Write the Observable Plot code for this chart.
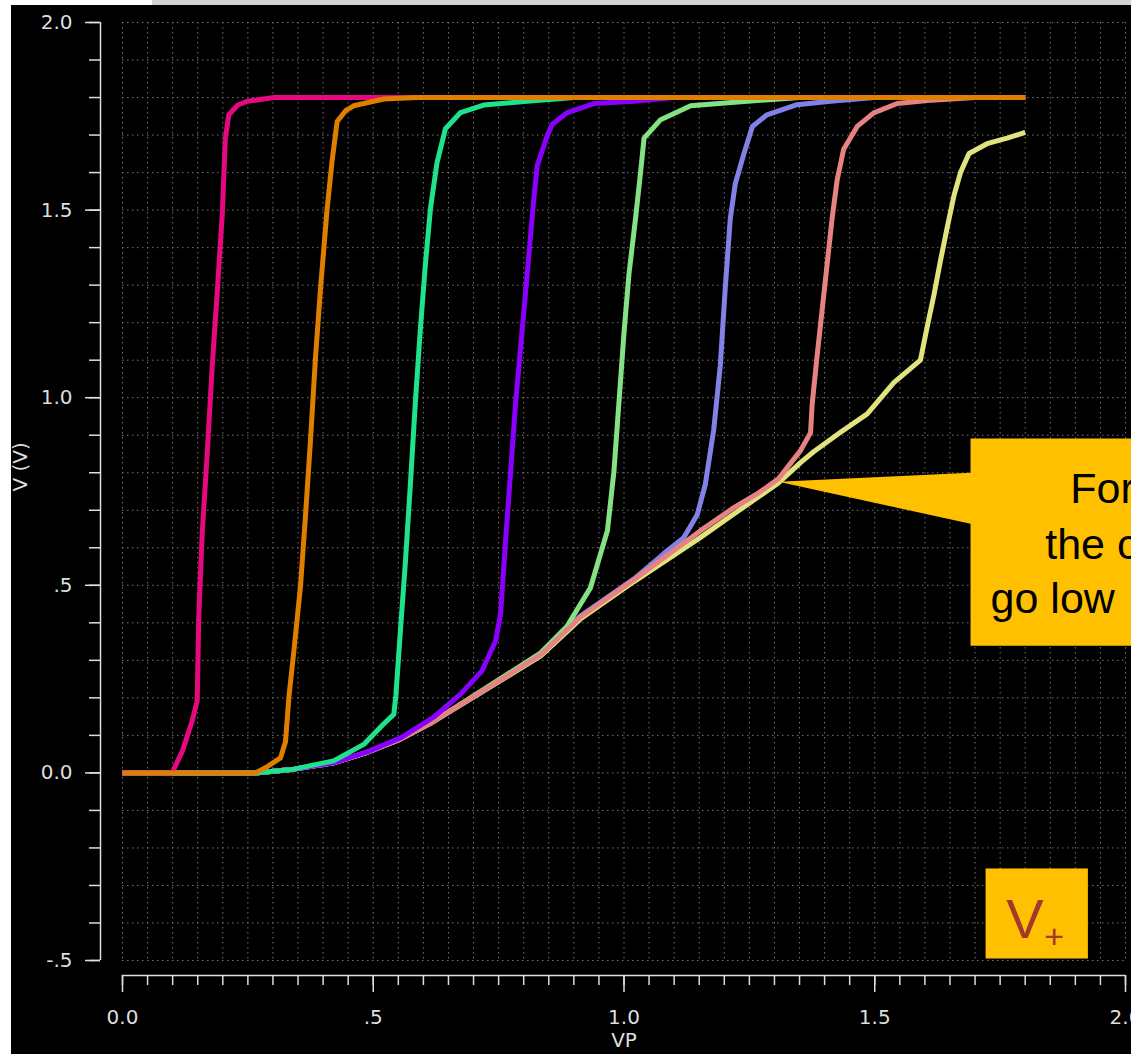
<!DOCTYPE html>
<html>
<head>
<meta charset="utf-8">
<script src="https://cdn.jsdelivr.net/npm/d3@7"></script>
<script src="https://cdn.jsdelivr.net/npm/@observablehq/plot@0.6"></script>
<style>
html, body { margin: 0; padding: 0; background: #fff; overflow: hidden; width: 1131px; height: 1054px; }
#topbar { position: absolute; left: 152px; top: 0px; width: 979px; height: 6px; background: #d2d2d2; border-radius: 0 0 3px 3px; }
#chart { position: absolute; left: 11px; top: 5px; width: 1120px; height: 1049px; background: #000; overflow: hidden; }
</style>
</head>
<body>
<div id="topbar"></div>
<div id="chart"></div>
<script>
// ---- data (VP, V) ----
const magenta = [[0,0],[0.099,0],[0.12,0.06],[0.139,0.139],[0.149,0.193],[0.152,0.413],[0.159,0.64],[0.169,0.853],[0.179,1.086],[0.189,1.283],[0.199,1.49],[0.205,1.69],[0.212,1.754],[0.23,1.78],[0.249,1.79],[0.302,1.8],[1.8,1.8]];
const orange = [[0,0],[0.265,0],[0.288,0.016],[0.315,0.04],[0.325,0.083],[0.332,0.205],[0.342,0.328],[0.355,0.499],[0.365,0.688],[0.375,0.89],[0.385,1.111],[0.395,1.294],[0.408,1.503],[0.418,1.632],[0.428,1.736],[0.445,1.765],[0.461,1.778],[0.521,1.796],[0.588,1.8],[1.8,1.8]];
const springGreen = [[0,0],[0.265,0],[0.342,0.01],[0.421,0.032],[0.481,0.076],[0.521,0.131],[0.541,0.156],[0.545,0.205],[0.554,0.376],[0.564,0.56],[0.574,0.768],[0.584,0.989],[0.594,1.184],[0.604,1.356],[0.614,1.503],[0.627,1.625],[0.644,1.717],[0.674,1.76],[0.72,1.78],[0.807,1.79],[0.9,1.8],[1.8,1.8]];
const purple = [[0,0],[0.265,0],[0.342,0.01],[0.421,0.027],[0.488,0.056],[0.554,0.093],[0.621,0.149],[0.674,0.21],[0.717,0.272],[0.744,0.352],[0.754,0.425],[0.764,0.621],[0.774,0.805],[0.784,0.989],[0.794,1.136],[0.807,1.331],[0.82,1.528],[0.827,1.619],[0.847,1.699],[0.857,1.729],[0.887,1.76],[0.94,1.784],[1.02,1.79],[1.1,1.8],[1.8,1.8]];
const lightGreen = [[0,0],[0.265,0],[0.342,0.01],[0.421,0.027],[0.488,0.055],[0.554,0.09],[0.614,0.132],[0.714,0.217],[0.834,0.32],[0.886,0.39],[0.933,0.493],[0.967,0.646],[0.98,0.805],[0.99,0.989],[1.0,1.173],[1.01,1.331],[1.023,1.478],[1.033,1.6],[1.04,1.692],[1.073,1.741],[1.133,1.778],[1.246,1.79],[1.35,1.8],[1.8,1.8]];
const periwinkle = [[0,0],[0.265,0],[0.342,0.01],[0.421,0.027],[0.488,0.055],[0.554,0.09],[0.614,0.132],[0.714,0.215],[0.834,0.316],[0.913,0.418],[1.02,0.517],[1.079,0.584],[1.119,0.627],[1.146,0.688],[1.162,0.768],[1.179,0.915],[1.192,1.086],[1.202,1.294],[1.212,1.478],[1.222,1.571],[1.239,1.65],[1.256,1.723],[1.285,1.754],[1.345,1.781],[1.412,1.79],[1.5,1.8],[1.8,1.8]];
const salmon = [[0,0],[0.265,0],[0.342,0.01],[0.421,0.027],[0.488,0.055],[0.554,0.09],[0.614,0.132],[0.714,0.215],[0.834,0.315],[0.913,0.415],[1.02,0.515],[1.152,0.645],[1.219,0.707],[1.266,0.744],[1.308,0.784],[1.352,0.859],[1.372,0.907],[1.375,0.979],[1.385,1.111],[1.395,1.233],[1.405,1.355],[1.415,1.478],[1.425,1.58],[1.438,1.662],[1.465,1.723],[1.498,1.759],[1.545,1.784],[1.605,1.792],[1.7,1.8],[1.8,1.8]];
const yellow = [[0,0],[0.265,0],[0.342,0.01],[0.421,0.027],[0.488,0.055],[0.554,0.09],[0.614,0.132],[0.714,0.213],[0.834,0.312],[0.913,0.41],[1.02,0.51],[1.152,0.627],[1.219,0.69],[1.308,0.773],[1.352,0.827],[1.378,0.856],[1.431,0.907],[1.485,0.957],[1.538,1.04],[1.591,1.1],[1.605,1.192],[1.618,1.274],[1.631,1.365],[1.645,1.457],[1.658,1.539],[1.671,1.6],[1.688,1.651],[1.724,1.677],[1.764,1.692],[1.8,1.707]];

// draw order (last on top) and colours
const seriesOrder = ["yellow","periwinkle","lightGreen","salmon","purple","springGreen","magenta","orange"];
const seriesData = {yellow, periwinkle, lightGreen, salmon, purple, springGreen, magenta, orange};
const seriesColors = ["#e2e27e","#8282e6","#84e184","#e68282","#8a00ff","#1ee38c","#e5097f","#e07e00"];

// axes
const xTicksMajor = [0, 0.5, 1, 1.5, 2];
const xTickLabels = ["0.0", ".5", "1.0", "1.5", "2.0"];
const yTicksMajor = [-0.5, 0, 0.5, 1, 1.5, 2];
const yTickLabels = ["-.5", "0.0", ".5", "1.0", "1.5", "2.0"];
const xLabel = "VP";
const yLabel = "V (V)";

// annotations
const calloutShape = [[1.691,0.891],[2.1,0.891],[2.1,0.339],[1.691,0.339],[1.691,0.664],[1.308,0.776],[1.691,0.80],[1.691,0.891]];
const calloutLines = ["For", "the c", "go low"];
const calloutX = [1.890, 1.840, 1.731];
const calloutY = [0.72, 0.571, 0.427];
const vBox = {x1: 1.722, x2: 1.926, y1: -0.256, y2: -0.496};
const vText = [{t: "V", x: 1.762, y: -0.44, size: 56}, {t: "+", x: 1.838, y: -0.467, size: 34}];

// ---- build ----
const xMinor = d3.range(0, 2.0001, 0.05);
const yMinor = d3.range(-0.5, 2.0001, 0.1);
const xFmt = new Map(xTicksMajor.map((v, i) => [v, xTickLabels[i]]));
const yFmt = new Map(yTicksMajor.map((v, i) => [v, yTickLabels[i]]));
const axisFont = "DejaVu Sans";
const axisSize = 20;
const axisColor = "#dedede";

const marks = [
  Plot.gridX(xMinor, {stroke: "#747474", strokeOpacity: 1, strokeDasharray: "1.5,3.5"}),
  Plot.gridY(yMinor, {stroke: "#747474", strokeOpacity: 1, strokeDasharray: "1.5,3.5"}),
  // y axis
  Plot.ruleX([0], {dx: -22, stroke: axisColor, strokeWidth: 1.5}),
  Plot.axisY(yMinor, {anchor: "left", dx: -22, tickSize: 11, tickFormat: () => "", stroke: axisColor, strokeWidth: 1.5, label: null}),
  Plot.axisY(yTicksMajor, {anchor: "left", dx: -22, tickSize: 15, tickPadding: 13, tickFormat: (d) => yFmt.get(d), stroke: axisColor, strokeWidth: 1.5, fill: axisColor, fontSize: axisSize, fontFamily: axisFont, label: null}),
  // x axis
  Plot.ruleY([-0.5], {dy: 15, stroke: axisColor, strokeWidth: 1.5}),
  Plot.axisX(xMinor, {anchor: "bottom", dy: 15, tickSize: 10, tickFormat: () => "", stroke: axisColor, strokeWidth: 1.5, label: null}),
  Plot.axisX(xTicksMajor, {anchor: "bottom", dy: 15, tickSize: 17, tickPadding: 17, tickFormat: (d) => xFmt.get(d), stroke: axisColor, strokeWidth: 1.5, fill: axisColor, fontSize: axisSize, fontFamily: axisFont, label: null}),
  Plot.text([xLabel], {frameAnchor: "bottom", dy: 86, fill: axisColor, fontSize: axisSize, fontFamily: axisFont}),
  Plot.text([yLabel], {frameAnchor: "left", dx: -102, rotate: -90, fill: axisColor, fontSize: axisSize, fontFamily: axisFont}),
];
seriesOrder.forEach((name, i) => {
  const rows = seriesData[name].map(([x, y]) => ({series: name, x, y}));
  marks.push(Plot.line(rows, {x: "x", y: "y", stroke: seriesColors[i], strokeWidth: 5, strokeLinejoin: "round", strokeLinecap: "butt"}));
});
marks.push(
  Plot.line(calloutShape, {x: d => d[0], y: d => d[1], fill: "#ffc000", stroke: "none"}),
  Plot.text(calloutLines, {x: (d, i) => calloutX[i], y: (d, i) => calloutY[i], text: d => d, textAnchor: "start", lineAnchor: "bottom", fill: "#000", fontSize: 43, fontFamily: "Liberation Sans"}),
  Plot.rect([vBox], {x1: "x1", x2: "x2", y1: "y1", y2: "y2", fill: "#ffc000"}),
  Plot.text(vText, {x: "x", y: "y", text: "t", fontSize: d => d.size, textAnchor: "start", lineAnchor: "bottom", fill: "#a3382c", fontFamily: "Liberation Sans"})
);

const chart = Plot.plot({
  width: 1120,
  height: 1049,
  marginLeft: 111,
  marginRight: 6,
  marginTop: 17,
  marginBottom: 94,
  style: {background: "#000", color: axisColor, overflow: "hidden"},
  x: {domain: [0, 2]},
  y: {domain: [-0.5, 2]},
  marks
});
document.getElementById("chart").appendChild(chart);
</script>
</body>
</html>
